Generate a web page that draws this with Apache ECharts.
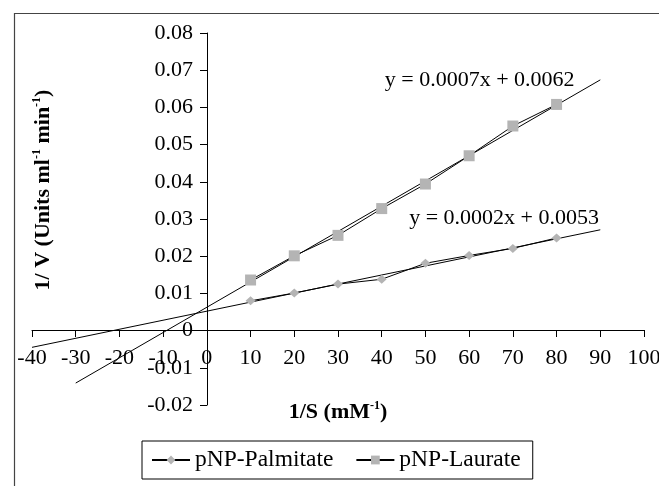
<!DOCTYPE html>
<html>
<head>
<meta charset="utf-8">
<script src="https://cdn.jsdelivr.net/npm/echarts@6/dist/echarts.min.js"></script>
<style>
  html, body { margin: 0; padding: 0; background: #fff; }
  #chart { width: 659px; height: 486px; }
</style>
</head>
<body>
<div id="chart"></div>
<script>
// 1/S values (mM^-1)
const invS = [10, 20, 30, 40, 50, 60, 70, 80]
// 1/V values
const palmitate = [0.0080, 0.0101, 0.0125, 0.0138, 0.0181, 0.0202, 0.0221, 0.0249]
const laurate = [0.0136, 0.0201, 0.0256, 0.0328, 0.0394, 0.0470, 0.0550, 0.0608]
// linear trend line endpoints
const palmitateTrend = [[-40, -0.0045], [90, 0.0271]]
const laurateTrend = [[-30, -0.0141], [90, 0.0674]]
const palmitateEq = 'y = 0.0002x + 0.0053'
const laurateEq = 'y = 0.0007x + 0.0062'

const font = 'Liberation Serif'
const markerGray = '#b4b4b4'

const chart = echarts.init(document.getElementById('chart'))

const pairs = ys => invS.map((x, i) => [x, ys[i]])

const eqLabel = (text, coord) => ({
  symbol: 'circle',
  symbolSize: 1,
  silent: true,
  itemStyle: { color: 'rgba(0,0,0,0)' },
  label: { show: true, position: 'inside', formatter: text, color: '#000', fontFamily: font, fontSize: 22 },
  data: [{ coord: coord }]
})

const supStyle = { fontFamily: font, fontSize: 12, fontWeight: 'bold', verticalAlign: 'top', lineHeight: 12, padding: [0, 0, 12, 0] }

// grid: x from -40..100 over 32..644 px, y from -0.02..0.08 over 33..405 px
// axes are pulled in to the zero lines with offset
const option = {
  animation: false,
  grid: { left: 32, right: 15, top: 33, bottom: 81, outerBoundsMode: 'none', containLabel: false },
  graphic: [{
    type: 'rect',
    left: 12, top: 11,
    shape: { width: 700, height: 520 },
    style: { fill: 'none', stroke: '#444', lineWidth: 1.2 },
    silent: true, z: -1
  }],
  legend: {
    data: ['pNP-Palmitate', 'pNP-Laurate'],
    left: 142, top: 441,
    padding: [7, 12, 7, 9],
    borderColor: '#000',
    borderWidth: 1,
    itemWidth: 38,
    itemHeight: 11,
    itemGap: 22,
    textStyle: { fontFamily: font, fontSize: 23.5, color: '#000' }
  },
  xAxis: {
    type: 'value',
    min: -40, max: 100, interval: 10,
    offset: -75,
    splitLine: { show: false },
    axisLine: { onZero: false, lineStyle: { color: '#000', width: 1 } },
    axisTick: { length: 7, lineStyle: { color: '#000' } },
    axisLabel: { margin: 17, color: '#000', fontFamily: font, fontSize: 22, showMaxLabel: true, hideOverlap: false },
    name: '1/S (mM{sup|-1})',
    nameLocation: 'middle',
    nameGap: 70,
    nameTextStyle: {
      fontFamily: font, fontSize: 22, fontWeight: 'bold', color: '#000', lineHeight: 24,
      rich: { sup: supStyle }
    }
  },
  yAxis: {
    type: 'value',
    min: -0.02, max: 0.08, interval: 0.01,
    offset: -175,
    splitLine: { show: false },
    axisLine: { onZero: false, lineStyle: { color: '#000', width: 1 } },
    axisTick: { length: 7, lineStyle: { color: '#000' } },
    axisLabel: {
      margin: 14, color: '#000', fontFamily: font, fontSize: 22, hideOverlap: false,
      formatter: v => (Math.abs(v) < 1e-9 ? '0' : v.toFixed(2))
    },
    name: '1/ V (Units ml{sup|-1} min{sup|-1})',
    nameLocation: 'middle',
    nameRotate: 90,
    nameGap: 152,
    nameTextStyle: {
      fontFamily: font, fontSize: 22, fontWeight: 'bold', color: '#000', lineHeight: 24,
      padding: [0, 0, 0, 58],
      rich: { sup: supStyle }
    }
  },
  series: [
    {
      name: 'pNP-Palmitate',
      type: 'line',
      data: pairs(palmitate),
      symbol: 'diamond',
      symbolSize: [10, 9],
      lineStyle: { color: '#000', width: 1 },
      itemStyle: { color: markerGray },
      z: 3
    },
    {
      name: 'pNP-Laurate',
      type: 'line',
      data: pairs(laurate),
      symbol: 'rect',
      symbolSize: 11,
      lineStyle: { color: '#000', width: 1 },
      itemStyle: { color: markerGray },
      z: 3
    },
    {
      name: 'Palmitate trend',
      type: 'line',
      data: palmitateTrend,
      symbol: 'none',
      silent: true,
      lineStyle: { color: '#000', width: 1 },
      markPoint: eqLabel(palmitateEq, [68, 0.0303])
    },
    {
      name: 'Laurate trend',
      type: 'line',
      data: laurateTrend,
      symbol: 'none',
      silent: true,
      lineStyle: { color: '#000', width: 1 },
      markPoint: eqLabel(laurateEq, [62.4, 0.0674])
    }
  ]
}

chart.setOption(option)
</script>
</body>
</html>
